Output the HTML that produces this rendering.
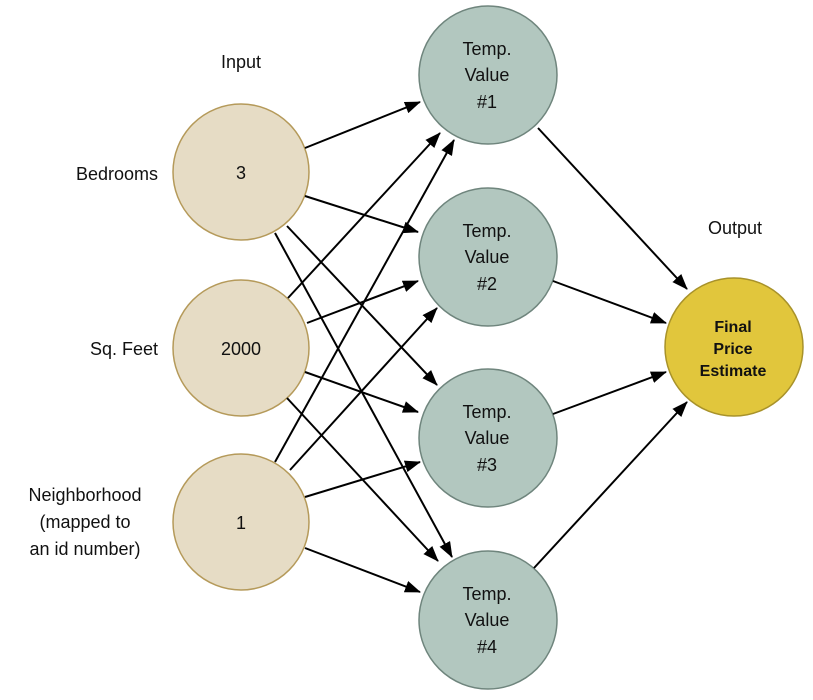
<!DOCTYPE html>
<html><head><meta charset="utf-8"><style>
html,body{margin:0;padding:0;background:#fff;}
svg{display:block;font-family:"Liberation Sans",sans-serif;}
</style></head><body>
<svg width="813" height="700" viewBox="0 0 813 700">
<defs><marker id="a" markerWidth="10" markerHeight="8" refX="9" refY="4" orient="auto" markerUnits="userSpaceOnUse" viewBox="0 0 10 8"><path d="M0,0L10,4L0,8z" fill="#000"/></marker>
<marker id="b" markerWidth="16" markerHeight="12" refX="15" refY="6" orient="auto" markerUnits="userSpaceOnUse" viewBox="0 0 16 12"><path d="M0,0L16,6L0,12z" fill="#000"/></marker></defs>
<g fill="#e6dcc5" stroke="#b59a5a" stroke-width="1.5">
<circle cx="241" cy="172" r="68"/><circle cx="241" cy="348" r="68"/><circle cx="241" cy="522" r="68"/></g>
<g fill="#b2c7bf" stroke="#6f857d" stroke-width="1.5">
<circle cx="488" cy="75" r="69"/><circle cx="488" cy="257" r="69"/><circle cx="488" cy="438" r="69"/><circle cx="488" cy="620" r="69"/></g>
<circle cx="734" cy="347" r="69" fill="#e1c63c" stroke="#a8922a" stroke-width="1.5"/>
<g stroke="#000" stroke-width="2" marker-end="url(#b)">
<line x1="305" y1="148" x2="420" y2="102"/>
<line x1="305" y1="196" x2="418" y2="232"/>
<line x1="287" y1="226" x2="437" y2="385"/>
<line x1="275" y1="233" x2="452" y2="557"/>
<line x1="288" y1="298" x2="440" y2="133"/>
<line x1="307" y1="323" x2="418" y2="281"/>
<line x1="305" y1="372" x2="418" y2="412"/>
<line x1="287" y1="398" x2="438" y2="561"/>
<line x1="275" y1="462" x2="454" y2="140"/>
<line x1="290" y1="470" x2="437" y2="308"/>
<line x1="305" y1="497" x2="420" y2="462"/>
<line x1="305" y1="548" x2="420" y2="592"/>
<line x1="538" y1="128" x2="687" y2="289"/>
<line x1="553" y1="281" x2="666" y2="323"/>
<line x1="553" y1="414" x2="666" y2="372"/>
<line x1="534" y1="568" x2="687" y2="402"/>
</g>
<g font-size="18" fill="#111" text-anchor="middle">
<text x="241" y="179">3</text><text x="241" y="355">2000</text><text x="241" y="529">1</text>
<text x="487" y="55">Temp.</text><text x="487" y="81">Value</text><text x="487" y="108">#1</text>
<text x="487" y="237">Temp.</text><text x="487" y="263">Value</text><text x="487" y="290">#2</text>
<text x="487" y="418">Temp.</text><text x="487" y="444">Value</text><text x="487" y="471">#3</text>
<text x="487" y="600">Temp.</text><text x="487" y="626">Value</text><text x="487" y="653">#4</text>
<text x="241" y="68">Input</text><text x="735" y="234">Output</text>
</g>
<g font-size="16" font-weight="bold" fill="#111" text-anchor="middle">
<text x="733" y="332">Final</text><text x="733" y="354">Price</text><text x="733" y="376">Estimate</text></g>
<g font-size="18" fill="#111" text-anchor="end">
<text x="158" y="180">Bedrooms</text><text x="158" y="355">Sq. Feet</text></g>
<g font-size="18" fill="#111" text-anchor="middle">
<text x="85" y="501">Neighborhood</text><text x="85" y="528">(mapped to</text><text x="85" y="555">an id number)</text></g>
</svg>
</body></html>
